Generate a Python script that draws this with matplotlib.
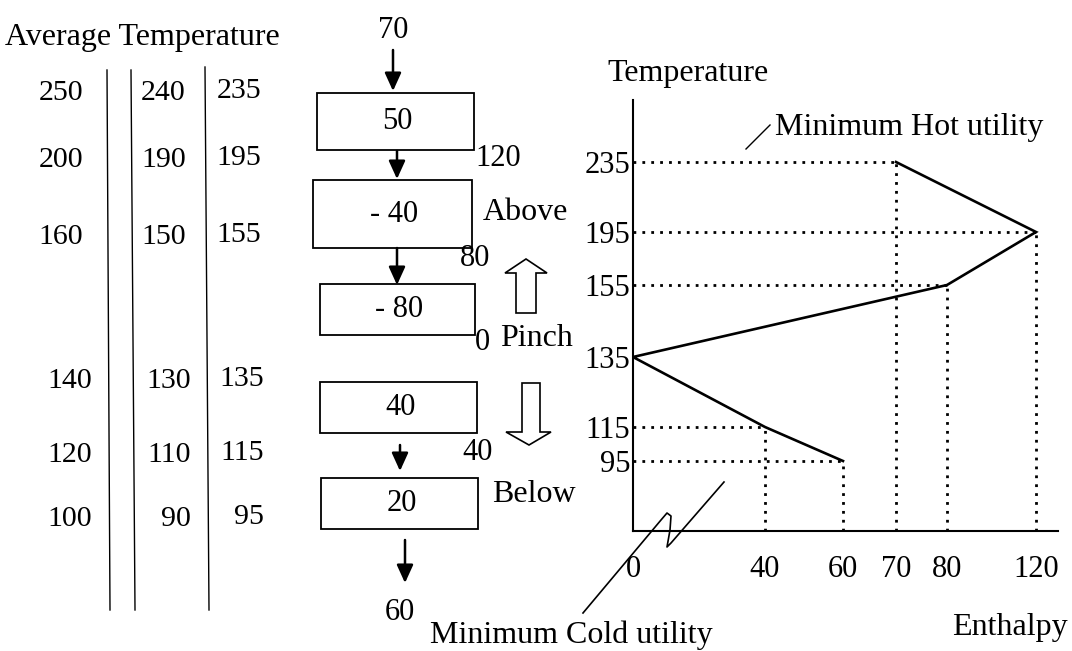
import matplotlib
matplotlib.use("Agg")
import matplotlib.pyplot as plt
import matplotlib.patches as mpatches
import numpy as np

plt.rcParams['font.family'] = ['Liberation Serif', 'DejaVu Serif']
FS_W = 23    # mots
FS_N = 22    # nombres
FS_TAB = 21.5

# Données : tableau des températures
t_hot = [250, 200, 160, 140, 120, 100]
t_cold = [240, 190, 150, 130, 110, 90]
t_shift = [235, 195, 155, 135, 115, 95]

# Cascade de chaleur
q_in = 70
q_interval = [50, -40, -80, 40, 20]
q_cascade = list(q_in + np.cumsum(q_interval))  # 120, 80, 0, 40, 60

# Courbe composite globale
gcc_T = [235, 195, 155, 135, 115, 95]
gcc_H = [70, 120, 80, 0, 40, 60]
h_ticks = [0, 40, 60, 70, 80, 120]

# Mise en page (pixels)
row_y = [93, 160, 237, 381, 455, 519]
col_right = [[83, 186, 261]] * 3 + [[92, 191, 264]] * 3
T_pix = [70, 104, 174, 246, 299, 369]      # hauteur au-dessus de l'axe, pour 95..235
H_pix = [0, 132, 210, 263, 314, 403]

W, H = 1072, 651
fig = plt.figure(figsize=(W / 100, H / 100), dpi=100)
ax0 = fig.add_axes([0, 0, 1, 1])
ax0.set_xlim(0, W)
ax0.set_ylim(H, 0)
ax0.axis('off')

# --- tableau des températures moyennes
ax0.text(5, 38, "Average Temperature", fontsize=FS_W, ha='left', va='center')
for i, y in enumerate(row_y):
    xr = col_right[i]
    ax0.text(xr[0], y, str(t_hot[i]), fontsize=FS_TAB, ha='right', va='center')
    ax0.text(xr[1], y, str(t_cold[i]), fontsize=FS_TAB, ha='right', va='center')
    ax0.text(xr[2], y - 2, str(t_shift[i]), fontsize=FS_TAB, ha='right', va='center')
for x0, x1, y0 in [(107, 110, 70), (131, 135, 70), (205, 209, 67)]:
    ax0.plot([x0, x1], [y0, 610], color='black', lw=1.0)

# --- cascade
boxes = [(317, 93, 157, 57), (313, 180, 159, 68), (320, 284, 155, 51),
         (320, 382, 157, 51), (321, 478, 157, 51)]
for (bx, by, bw, bh), q in zip(boxes, q_interval):
    ax0.add_patch(mpatches.Rectangle((bx, by), bw, bh, fill=False, ec='black', lw=1.3))
    lab = str(q) if q >= 0 else "- %d" % abs(q)
    ax0.text(bx + bw / 2 + 2, by + bh / 2, lab, fontsize=FS_N, ha='center', va='center')

arrows = [(393, 50, 91), (397, 151, 179), (397, 248, 285), (400, 445, 471), (405, 540, 583)]
for x, y0, y1 in arrows:
    ax0.annotate("", xy=(x, y1), xytext=(x, y0),
                 arrowprops=dict(arrowstyle='-|>,head_length=1.1,head_width=0.5',
                                 color='black', lw=1.8, shrinkA=0, shrinkB=0))

ax0.text(393, 30, str(q_in), fontsize=FS_N, ha='center', va='center')
q_lab_pos = [(475, 158, 'left'), (490, 258, 'right'), (490, 343, 'right'),
             (493, 452, 'right'), (400, 612, 'center')]
for (x, y, ha), q in zip(q_lab_pos, q_cascade):
    ax0.text(x, y, str(q), fontsize=FS_N, ha=ha, va='center')
ax0.text(483, 213, "Above", fontsize=FS_W, ha='left', va='center')
ax0.text(500, 338, "Pinch", fontsize=FS_W, ha='left', va='center')
ax0.text(492, 495, "Below", fontsize=FS_W, ha='left', va='center')

# flèches creuses
up = [(516, 313), (516, 273), (505, 273), (526, 259), (547, 273), (536, 273), (536, 313)]
dn = [(522, 383), (522, 432), (506, 432), (529, 445), (551, 432), (540, 432), (540, 383)]
for pts in (up, dn):
    ax0.add_patch(mpatches.Polygon(pts, closed=True, fc='white', ec='black', lw=1.2))

# --- courbe composite globale
def piecewise(vals, pos):
    vals = np.asarray(vals, float)
    pos = np.asarray(pos, float)
    s0 = (pos[1] - pos[0]) / (vals[1] - vals[0])
    s1 = (pos[-1] - pos[-2]) / (vals[-1] - vals[-2])

    def fwd(v):
        v = np.asarray(v, float)
        out = np.interp(v, vals, pos)
        out = np.where(v < vals[0], pos[0] + (v - vals[0]) * s0, out)
        return np.where(v > vals[-1], pos[-1] + (v - vals[-1]) * s1, out)

    def inv(p):
        p = np.asarray(p, float)
        out = np.interp(p, pos, vals)
        out = np.where(p < pos[0], vals[0] + (p - pos[0]) / s0, out)
        return np.where(p > pos[-1], vals[-1] + (p - pos[-1]) / s1, out)
    return fwd, inv

ax_l, ax_r, ax_b, ax_t = 633, 1058, 531, 100
ax1 = fig.add_axes([ax_l / W, (H - ax_b) / H, (ax_r - ax_l) / W, (ax_b - ax_t) / H])
ax1.patch.set_alpha(0)
fy, iy = piecewise(sorted(gcc_T), T_pix)
fx, ix = piecewise(h_ticks, H_pix)
ax1.set_yscale('function', functions=(fy, iy))
ax1.set_xscale('function', functions=(fx, ix))
ymin, ymax = float(iy(0)), float(iy(ax_b - ax_t))
ax1.set_ylim(ymin, ymax)
ax1.set_xlim(0, float(ix(ax_r - ax_l)))

dot = dict(color='black', lw=2.0, linestyle=(0, (1, 2.2)))
for h, t in zip(gcc_H, gcc_T):
    if h > 0:
        ax1.plot([0, h], [t, t], **dot)
        ax1.plot([h, h], [ymin, t], **dot)
ax1.plot(gcc_H, gcc_T, color='black', lw=1.9, solid_joinstyle='miter')

for s in ['top', 'right']:
    ax1.spines[s].set_visible(False)
for s in ['left', 'bottom']:
    ax1.spines[s].set_linewidth(1.5)
ax1.set_yticks(gcc_T)
ax1.set_yticklabels([str(t) for t in gcc_T])
ax1.set_xticks(h_ticks)
ax1.set_xticklabels([str(h) for h in h_ticks])
ax1.yaxis.set_minor_locator(matplotlib.ticker.NullLocator())
ax1.xaxis.set_minor_locator(matplotlib.ticker.NullLocator())
ax1.tick_params(axis='y', length=0, pad=2, labelsize=FS_N)
ax1.tick_params(axis='x', length=0, pad=17, labelsize=FS_N)

ax0.text(607, 73, "Temperature", fontsize=FS_W, ha='left', va='center')
ax0.text(775, 128, "Minimum Hot utility", fontsize=FS_W, ha='left', va='center')
ax0.plot([746, 770], [149, 125], color='black', lw=1.0)
ax0.text(1068, 628, "Enthalpy", fontsize=FS_W, ha='right', va='center')
ax0.text(430, 635, "Minimum Cold utility", fontsize=FS_W, ha='left', va='center')
squig_x = [583, 661, 667, 671, 670, 667, 671, 724]
squig_y = [613, 520, 513, 516, 530, 547, 543, 482]
ax0.plot(squig_x, squig_y, color='black', lw=1.2)

fig.savefig("out.png", dpi=100)
